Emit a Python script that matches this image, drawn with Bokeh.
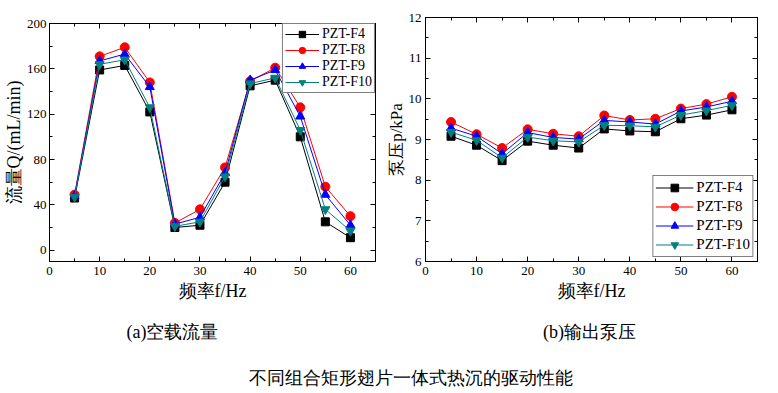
from bokeh.plotting import figure
from bokeh.models import (LinearAxis, SingleIntervalTicker, Range1d, Label)
from bokeh.layouts import column, row
from bokeh.embed import file_html
from bokeh.resources import INLINE

# ---------------- data ----------------
freq = [5, 10, 15, 20, 25, 30, 35, 40, 45, 50, 55, 60]
series_names = ["PZT-F4", "PZT-F8", "PZT-F9", "PZT-F10"]

Q_F4 = [46, 159, 163, 122, 20, 22, 60, 145, 150, 100, 25, 11]
Q_F8 = [49, 171, 179, 148, 24, 36, 73, 149, 161, 126, 56, 30]
Q_F9 = [48, 167, 173, 144, 23, 29, 68, 150, 159, 118, 49, 22]
Q_F10 = [47, 164, 168, 126, 21, 25, 65, 147, 152, 106, 36, 17]

p_F4 = [9.08, 8.86, 8.48, 8.96, 8.86, 8.79, 9.26, 9.21, 9.19, 9.51, 9.60, 9.73]
p_F8 = [9.43, 9.13, 8.79, 9.25, 9.14, 9.08, 9.59, 9.48, 9.51, 9.76, 9.87, 10.05]
p_F9 = [9.28, 9.08, 8.65, 9.17, 9.05, 9.01, 9.47, 9.43, 9.38, 9.70, 9.80, 9.94]
p_F10 = [9.18, 8.98, 8.55, 9.06, 8.97, 8.94, 9.35, 9.34, 9.31, 9.60, 9.71, 9.84]

colors = ["#000000", "#FF0000", "#0000FF", "#008080"]
markers = ["square", "circle", "triangle", "inverted_triangle"]
msizes = [8, 9, 9, 9]

caption_a = "(a)空载流量"
caption_b = "(b)输出泵压"
main_title = "不同组合矩形翅片一体式热沉的驱动性能"

SERIF = "Liberation Serif"


def style_axis(ax, label_size=None):
    ax.axis_line_color = "black"
    ax.axis_line_width = 1
    ax.major_tick_in = 5
    ax.major_tick_out = 0
    ax.minor_tick_in = 3
    ax.minor_tick_out = 0
    ax.major_tick_line_color = "black"
    ax.minor_tick_line_color = "black"
    ax.major_label_text_font = SERIF
    if label_size is None:
        # mirrored frame axis: ticks only, labels not drawn
        ax.major_label_text_font_size = "1px"
        ax.major_label_text_color = None
    else:
        ax.major_label_text_font_size = label_size
        ax.major_label_text_color = "black"
    ax.axis_label_text_font = SERIF
    ax.axis_label_text_font_style = "normal"
    ax.axis_label_text_color = "black"
    ax.axis_label_text_line_height = 1.0


def make_chart(width, height, borders, y_range, y_interval, ylabel, ylabel_size,
               ydata, legend_loc, legend_font, legend_rowh, glyph_w, legend_margin,
               ylab_standoff):
    p = figure(width=width, height=height, output_backend="svg",
               toolbar_location=None, x_range=Range1d(0, 65), y_range=y_range,
               x_axis_type=None, y_axis_type=None)
    p.min_border_left, p.min_border_right, p.min_border_top, p.min_border_bottom = borders
    p.background_fill_color = "white"
    p.border_fill_color = "white"
    p.outline_line_color = "black"

    xt = SingleIntervalTicker(interval=10, num_minor_ticks=2)
    yt = SingleIntervalTicker(interval=y_interval, num_minor_ticks=2)

    xb = LinearAxis(ticker=xt, axis_label="频率f/Hz")
    style_axis(xb, "13px")
    xb.major_label_standoff = 5
    xb.axis_label_standoff = 3
    xb.axis_label_text_font_size = "18px"
    p.add_layout(xb, "below")

    yl = LinearAxis(ticker=yt, axis_label=ylabel)
    style_axis(yl, "13px")
    yl.major_label_standoff = ylab_standoff
    yl.axis_label_standoff = 0
    yl.axis_label_text_font_size = ylabel_size
    p.add_layout(yl, "left")

    xa = LinearAxis(ticker=xt)
    style_axis(xa)
    xa.major_label_standoff = 0
    p.add_layout(xa, "above")
    yr = LinearAxis(ticker=yt)
    style_axis(yr)
    yr.major_label_standoff = 0
    p.add_layout(yr, "right")

    p.xgrid.ticker = xt
    p.ygrid.ticker = yt
    for g in (p.xgrid, p.ygrid):
        g.grid_line_color = "#BBBBBB"
        g.grid_line_dash = "2 2"
        g.grid_line_width = 1
        g.minor_grid_line_color = "#BBBBBB"
        g.minor_grid_line_dash = "2 2"
        g.minor_grid_line_width = 1

    for name, col, mk, ms, ys in zip(series_names, colors, markers, msizes, ydata):
        p.line(freq, ys, line_color=col, line_width=1, legend_label=name)
        p.scatter(freq, ys, marker=mk, size=ms, fill_color=col, line_color=col,
                  legend_label=name)

    lg = p.legend[0]
    lg.location = legend_loc
    lg.margin = legend_margin
    lg.padding = 2
    lg.spacing = 0
    lg.border_line_color = "black"
    lg.border_line_width = 1
    lg.background_fill_color = "white"
    lg.background_fill_alpha = 1
    lg.label_text_font = SERIF
    lg.label_text_font_size = legend_font
    lg.label_text_color = "black"
    lg.label_height = legend_rowh
    lg.glyph_height = legend_rowh
    lg.glyph_width = glyph_w
    lg.label_standoff = 3
    return p


p1 = make_chart(383, 303, (49, 8, 23, 40), Range1d(-10, 200), 40,
                "流量Q/(mL/min)", "18px", [Q_F4, Q_F8, Q_F9, Q_F10],
                "top_right", "14px", 16, 34, 0, 3)
p2 = make_chart(395, 303, (40, 21, 17, 41), Range1d(6, 12), 1,
                "泵压p/kPa", "17px", [p_F4, p_F8, p_F9, p_F10],
                "bottom_right", "15px", 19, 38, 4, 4)

# captions
p3 = figure(width=778, height=90, output_backend="svg", toolbar_location=None,
            x_range=Range1d(0, 778), y_range=Range1d(0, 90),
            x_axis_type=None, y_axis_type=None)
p3.min_border_left = p3.min_border_right = p3.min_border_top = p3.min_border_bottom = 0
p3.outline_line_color = None
p3.xgrid.visible = False
p3.ygrid.visible = False
for txt, x, y in ((caption_a, 172, 62), (caption_b, 589, 62), (main_title, 410, 16)):
    p3.add_layout(Label(x=x, y=y, text=txt, text_align="center", text_baseline="middle",
                        text_font=SERIF, text_font_size="18px", text_color="black"))

layout = column(row(column(p1), column(p2)), p3)
open("out.html", "w").write(file_html(layout, INLINE))
